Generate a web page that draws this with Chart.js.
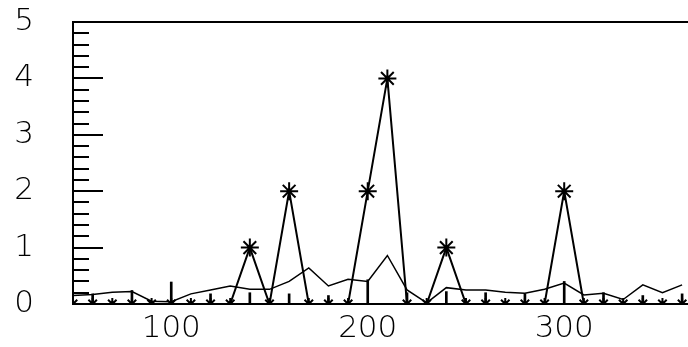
<!DOCTYPE html>
<html>
<head>
<meta charset="utf-8">
<script src="https://cdn.jsdelivr.net/npm/chart.js@4"></script>
<style>
  html, body { margin: 0; padding: 0; background: #fff; overflow: hidden; }
  canvas { display: block; }
</style>
</head>
<body>
<canvas id="chart" width="688" height="347"></canvas>
<script>
// --- data ---
const xValues = [50, 60, 70, 80, 90, 100, 110, 120, 130, 140, 150, 160, 170, 180, 190, 200,
                 210, 220, 230, 240, 250, 260, 270, 280, 290, 300, 310, 320, 330, 340, 350, 360];
const peakValues = [0, 0, 0, 0, 0, 0, 0, 0, 0, 1, 0, 2, 0, 0, 0, 2,
                    4, 0, 0, 1, 0, 0, 0, 0, 0, 2, 0, 0, 0, 0, 0, 0];
const curveValues = [0.15, 0.17, 0.21, 0.22, 0.05, 0.04, 0.18, 0.25, 0.32, 0.26, 0.26, 0.40, 0.64, 0.32, 0.44, 0.40,
                     0.86, 0.25, 0.02, 0.29, 0.25, 0.25, 0.21, 0.19, 0.26, 0.37, 0.16, 0.19, 0.08, 0.34, 0.20, 0.34];
const stickX = [60, 80, 100, 120, 140, 160, 180, 200, 220, 240, 260, 280, 300, 320, 340, 360];
const stickValues = [0.18, 0.24, 0.39, 0.18, 0.20, 0.18, 0.15, 0.43, 0.20, 0.22, 0.20, 0.18, 0.40, 0.20, 0.15, 0.18];
const xTicks = [100, 200, 300];
const yTicks = [0, 1, 2, 3, 4, 5];

const labelFont = { family: 'DejaVu Sans', size: 31, weight: '200' };

// 안쪽 눈금 + 위쪽 테두리
const frame = {
  id: 'frame',
  afterDatasetsDraw(chart) {
    const { ctx, chartArea, scales } = chart;
    const y = scales.y;
    ctx.save();
    ctx.strokeStyle = '#000';
    ctx.lineWidth = 2;
    ctx.beginPath();
    for (let i = 0; i <= 25; i++) {
      const py = Math.round(y.getPixelForValue(i * 0.2));
      const len = i % 5 === 0 ? 30 : 16;
      ctx.moveTo(chartArea.left, py);
      ctx.lineTo(chartArea.left + len, py);
    }
    ctx.moveTo(chartArea.left - 1, chartArea.top);
    ctx.lineTo(chartArea.right, chartArea.top);
    ctx.stroke();
    ctx.restore();
  }
};

new Chart(document.getElementById('chart'), {
  type: 'line',
  data: {
    datasets: [
      {
        label: 'peaks',
        data: xValues.map((x, i) => ({ x, y: peakValues[i] })),
        borderColor: '#000',
        borderWidth: 2,
        pointStyle: 'star',
        pointRadius: c => (c.raw && c.raw.y === 0 ? 6 : 9),
        pointBorderWidth: 2,
        pointBorderColor: '#000',
        pointBackgroundColor: '#000',
        tension: 0,
        clip: 0
      },
      {
        label: 'curve',
        data: xValues.map((x, i) => ({ x, y: curveValues[i] })),
        borderColor: '#000',
        borderWidth: 1.5,
        pointRadius: 0,
        tension: 0,
        clip: 0
      },
      {
        type: 'bar',
        label: 'sticks',
        data: stickX.map((x, i) => ({ x, y: stickValues[i] })),
        backgroundColor: '#000',
        barThickness: 2,
        clip: 0
      }
    ]
  },
  options: {
    responsive: false,
    animation: false,
    layout: { autoPadding: false, padding: { top: 22, left: 0, right: 0, bottom: 0 } },
    plugins: { legend: { display: false }, tooltip: { enabled: false } },
    scales: {
      x: {
        type: 'linear',
        min: 50,
        max: 363,
        offset: false,
        afterBuildTicks: axis => { axis.ticks = xTicks.map(v => ({ value: v })); },
        afterFit: axis => { axis.height = 43; },
        grid: { display: false, drawTicks: false },
        border: { display: true, color: '#000', width: 2 },
        ticks: { color: '#000', font: labelFont, padding: 6, maxRotation: 0, autoSkip: false }
      },
      y: {
        min: 0,
        max: 5,
        afterBuildTicks: axis => { axis.ticks = yTicks.map(v => ({ value: v })); },
        afterFit: axis => { axis.width = 73; axis.paddingTop = 0; axis.paddingBottom = 0; },
        grid: { display: false, drawTicks: false },
        border: { display: true, color: '#000', width: 2 },
        ticks: { color: '#000', font: labelFont, padding: 39 }
      }
    }
  },
  plugins: [frame]
});
</script>
</body>
</html>
